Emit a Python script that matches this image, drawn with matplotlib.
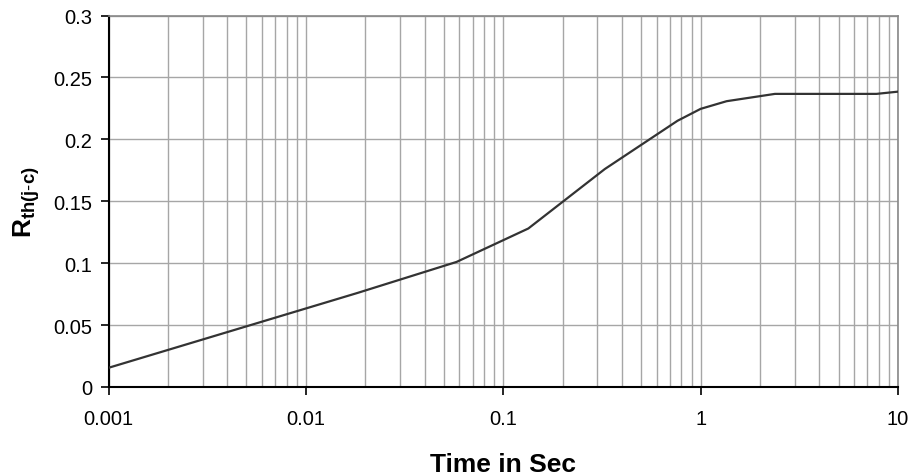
import matplotlib
matplotlib.use("Agg")
import matplotlib.pyplot as plt
from matplotlib.ticker import FixedLocator, LogLocator, NullFormatter

plt.rcParams['font.family'] = ['Liberation Sans', 'DejaVu Sans']
plt.rcParams['mathtext.fontset'] = 'custom'
plt.rcParams['mathtext.rm'] = 'Liberation Sans'
plt.rcParams['mathtext.bf'] = 'Liberation Sans:bold'

# Data
time_s = [0.001, 0.0183, 0.058, 0.134, 0.327, 0.764, 1.0, 1.355, 2.38, 7.78, 10.0]
rth_jc = [0.0155, 0.076, 0.101, 0.128, 0.176, 0.215, 0.2246, 0.2308, 0.2367, 0.2367, 0.2385]

x_ticks = [0.001, 0.01, 0.1, 1, 10]
x_tick_labels = ["0.001", "0.01", "0.1", "1", "10"]
y_ticks = [0, 0.05, 0.1, 0.15, 0.2, 0.25, 0.3]
y_tick_labels = ["0", "0.05", "0.1", "0.15", "0.2", "0.25", "0.3"]

fig = plt.figure(figsize=(9.16, 4.77), dpi=100)
ax = fig.add_axes([0.1185, 0.1866, 0.9803 - 0.1185, 0.9654 - 0.1866])

ax.plot(time_s, rth_jc, color='#333333', lw=1.6, zorder=3, solid_joinstyle='round')

ax.set_xscale('log')
ax.set_xlim(0.001, 10)
ax.set_ylim(0, 0.3)

ax.xaxis.set_major_locator(FixedLocator(x_ticks))
ax.set_xticklabels(x_tick_labels)
ax.xaxis.set_minor_locator(LogLocator(base=10, subs=range(2, 10), numticks=50))
ax.xaxis.set_minor_formatter(NullFormatter())
ax.set_yticks(y_ticks)
ax.set_yticklabels(y_tick_labels)

grid_color = '#a6a6a6'
ax.grid(True, which='major', axis='both', color=grid_color, lw=1.0)
ax.grid(True, which='minor', axis='x', color=grid_color, lw=1.0)
ax.set_axisbelow(True)

ax.tick_params(axis='both', which='major', direction='out', length=6, width=1.2,
               color='black', labelsize=14.5)
ax.tick_params(axis='x', which='major', pad=10)
ax.tick_params(axis='y', which='major', pad=6)
ax.tick_params(axis='x', which='minor', length=0)

for side in ['left', 'bottom']:
    ax.spines[side].set_color('black')
    ax.spines[side].set_linewidth(1.5)
for side in ['top', 'right']:
    ax.spines[side].set_color('#888888')
    ax.spines[side].set_linewidth(1.2)

ax.set_xlabel('Time in Sec', fontsize=19, fontweight='bold', labelpad=17)
ax.set_ylabel(r'$\mathbf{R_{th(j\text{-}c)}}$', fontsize=19, labelpad=8)

fig.savefig('out.png', dpi=100)
